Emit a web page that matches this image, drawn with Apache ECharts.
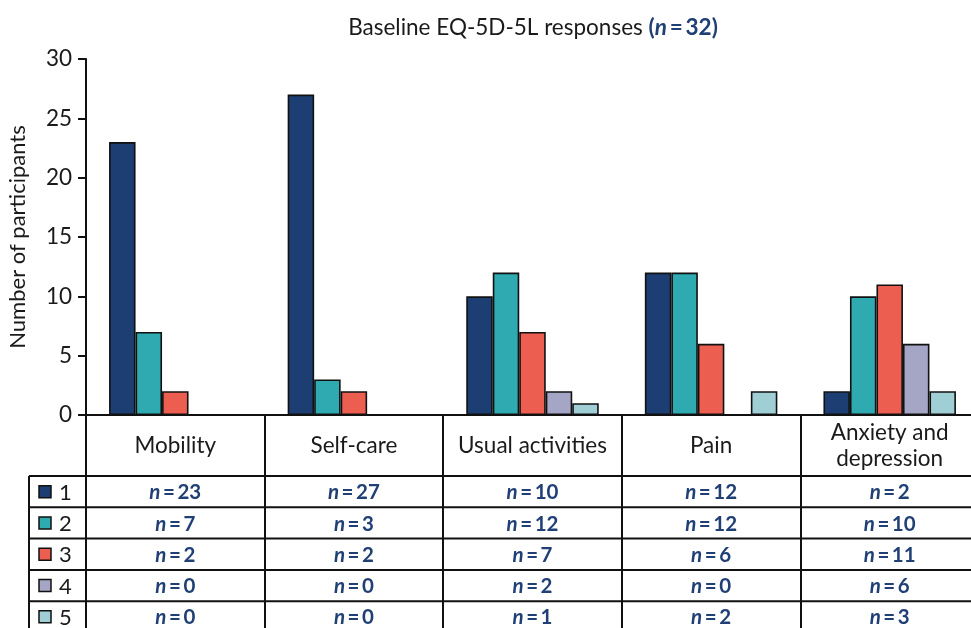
<!DOCTYPE html>
<html>
<head>
<meta charset="utf-8">
<script src="https://cdn.jsdelivr.net/npm/echarts@6/dist/echarts.min.js"></script>
<style>
  html, body { margin: 0; padding: 0; background: #fff; }
  #chart { width: 971px; height: 628px; }
</style>
</head>
<body>
<div id="chart"></div>
<script>
// categories and counts per response level
const categories = ['Mobility', 'Self-care', 'Usual activities', 'Pain', 'Anxiety and\ndepression'];
const levels = ['1', '2', '3', '4', '5'];
const level1 = [23, 27, 10, 12, 2];
const level2 = [7, 3, 12, 12, 10];
const level3 = [2, 2, 7, 6, 11];
const level4 = [0, 0, 2, 0, 6];
const level5 = [0, 0, 1, 2, 2];        // bar heights as drawn
const level5Table = [0, 0, 1, 2, 3];   // as printed in the table
const yTicks = [0, 5, 10, 15, 20, 25, 30];
const totalN = 32;

const colors = ['#1c3e72', '#2eaab0', '#ec5e4f', '#a5a6c5', '#9fcfd4'];
const tableRows = [level1, level2, level3, level4, level5Table];
const seriesData = [level1, level2, level3, level4, level5];

const font = 'Lato, "Open Sans", sans-serif';
const gridLeft = 86, gridTop = 59, gridHeight = 356, gridWidth = 893;
const headerH = 61, rowH = 31.3, legendLeft = 29;

let chart = echarts.init(document.getElementById('chart'));

chart.setOption({
  animation: false,
  textStyle: { fontFamily: font },
  title: {
    text: '{a|Baseline EQ-5D-5L responses }{b|(}{c|n}{b|\u2009=\u2009' + totalN + ')}',
    left: 528,
    top: 11,
    textAlign: 'center',
    textStyle: {
      fontWeight: 'normal',
      rich: {
        a: { fontSize: 22.5, color: '#1a1a1a', fontWeight: 'normal', fontFamily: font },
        b: { fontSize: 22.5, color: '#1f3f75', fontWeight: 'bold', fontFamily: font },
        c: { fontSize: 22.5, color: '#1f3f75', fontWeight: 'bold', fontStyle: 'italic', fontFamily: font }
      }
    }
  },
  grid: { left: gridLeft, top: gridTop, width: gridWidth, height: gridHeight,
    outerBoundsMode: 'none', containLabel: false },
  xAxis: {
    type: 'category',
    data: categories,
    axisLine: { lineStyle: { color: '#111', width: 2 } },
    axisTick: { show: true, length: 215, lineStyle: { color: '#111', width: 2 } },
    axisLabel: { show: false }
  },
  yAxis: {
    type: 'value',
    min: 0,
    max: 30,
    interval: 5,
    name: 'Number of participants',
    nameLocation: 'middle',
    nameGap: 57,
    nameTextStyle: { fontSize: 22, color: '#1a1a1a', fontFamily: font },
    axisLine: { show: true, lineStyle: { color: '#111', width: 2 } },
    axisTick: { show: true, length: 8, lineStyle: { color: '#111', width: 2 } },
    axisLabel: { fontSize: 22.5, color: '#1a1a1a', margin: 14, fontFamily: font,
      formatter: v => yTicks.includes(v) ? String(v) : '' },
    splitLine: { show: false }
  },
  series: seriesData.map((d, i) => ({
    name: levels[i],
    type: 'bar',
    data: d,
    barWidth: 26.5,
    barGap: '0%',
    itemStyle: { color: colors[i], borderColor: '#111', borderWidth: 1.6 }
  }))
});

// table under the axis, positioned from the axis scale
const baseY = gridTop + gridHeight;
const graphics = [];
const rightX = 980;

categories.forEach((c, ci) => {
  const cx = chart.convertToPixel({ xAxisIndex: 0 }, ci);
  graphics.push({
    type: 'text',
    x: cx, y: baseY + headerH / 2,
    style: { text: c, fontSize: 22.5, fill: '#1a1a1a', fontFamily: font,
      align: 'center', verticalAlign: 'middle', lineHeight: 26 }
  });
  tableRows.forEach((row, ri) => {
    graphics.push({
      type: 'text',
      x: cx, y: baseY + headerH + rowH * ri + rowH / 2 + 1,
      style: {
        text: '{i|n}{t|\u2009=\u2009' + row[ci] + '}',
        align: 'center', verticalAlign: 'middle',
        rich: {
          i: { fontSize: 20.5, fill: '#1f3f75', fontWeight: 'bold', fontStyle: 'italic', fontFamily: font },
          t: { fontSize: 20.5, fill: '#1f3f75', fontWeight: 'bold', fontFamily: font }
        }
      }
    });
  });
});

for (let r = 0; r < levels.length; r++) {
  const y = baseY + headerH + rowH * r;
  graphics.push({
    type: 'line',
    shape: { x1: legendLeft, y1: y, x2: rightX, y2: y },
    style: { stroke: '#111', lineWidth: 2 }
  });
  graphics.push({
    type: 'rect',
    shape: { x: 39, y: y + rowH / 2 - 6, width: 12, height: 12 },
    style: { fill: colors[r], stroke: '#111', lineWidth: 1.5 }
  });
  graphics.push({
    type: 'text',
    x: 59, y: y + rowH / 2 + 1,
    style: { text: levels[r], fontSize: 22, fill: '#1a1a1a', fontFamily: font, verticalAlign: 'middle' }
  });
}
graphics.push({
  type: 'line',
  shape: { x1: legendLeft, y1: baseY + headerH, x2: legendLeft, y2: 640 },
  style: { stroke: '#111', lineWidth: 2 }
});

chart.setOption({ graphic: graphics });
</script>
</body>
</html>
